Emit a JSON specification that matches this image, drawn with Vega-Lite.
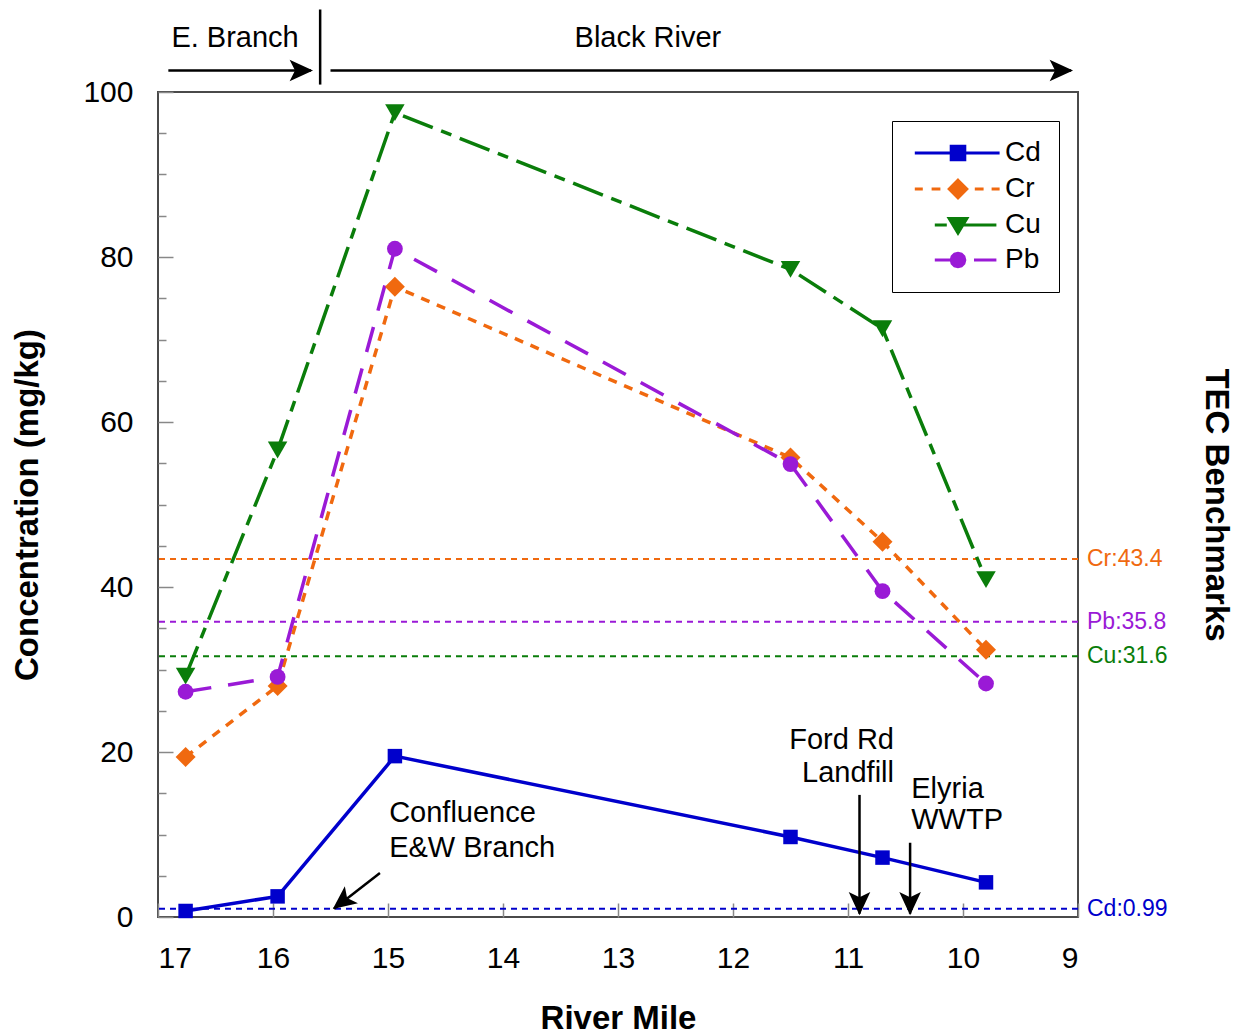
{
  "$schema": "https://vega.github.io/schema/vega-lite/v6.json",
  "width": 920,
  "height": 825,
  "autosize": {"type": "none"},
  "padding": {"left": 158, "top": 92, "right": 160, "bottom": 117},
  "background": "white",
  "config": {
    "font": "Liberation Sans",
    "view": {"stroke": "#4a4a4a", "strokeWidth": 2}
  },
  "datasets": {
    "conc": [
      {"metal": "Cd", "mile": 16.76, "conc": 0.73},
      {"metal": "Cd", "mile": 15.96, "conc": 2.5},
      {"metal": "Cd", "mile": 14.94, "conc": 19.5},
      {"metal": "Cd", "mile": 11.5, "conc": 9.7},
      {"metal": "Cd", "mile": 10.7, "conc": 7.2},
      {"metal": "Cd", "mile": 9.8, "conc": 4.2},
      {"metal": "Cr", "mile": 16.76, "conc": 19.4},
      {"metal": "Cr", "mile": 15.96, "conc": 28.0},
      {"metal": "Cr", "mile": 14.94, "conc": 76.4},
      {"metal": "Cr", "mile": 11.5, "conc": 55.7},
      {"metal": "Cr", "mile": 10.7, "conc": 45.5},
      {"metal": "Cr", "mile": 9.8, "conc": 32.4},
      {"metal": "Cu", "mile": 16.76, "conc": 29.2},
      {"metal": "Cu", "mile": 15.96, "conc": 56.6},
      {"metal": "Cu", "mile": 14.94, "conc": 97.5},
      {"metal": "Cu", "mile": 11.5, "conc": 78.5},
      {"metal": "Cu", "mile": 10.7, "conc": 71.3},
      {"metal": "Cu", "mile": 9.8, "conc": 40.9},
      {"metal": "Pb", "mile": 16.76, "conc": 27.3},
      {"metal": "Pb", "mile": 15.96, "conc": 29.1},
      {"metal": "Pb", "mile": 14.94, "conc": 81.0},
      {"metal": "Pb", "mile": 11.5, "conc": 54.9},
      {"metal": "Pb", "mile": 10.7, "conc": 39.5},
      {"metal": "Pb", "mile": 9.8, "conc": 28.3}
    ],
    "bench": [
      {"metal": "Cd", "tec": 0.99, "label": "Cd:0.99"},
      {"metal": "Cr", "tec": 43.4, "label": "Cr:43.4"},
      {"metal": "Cu", "tec": 31.6, "label": "Cu:31.6"},
      {"metal": "Pb", "tec": 35.8, "label": "Pb:35.8"}
    ],
    "notes": [
      {"text": "Confluence", "mile": 14.99, "conc": 12.6, "side": "L"},
      {"text": "E&W Branch", "mile": 14.99, "conc": 8.4, "side": "L"},
      {"text": "Ford Rd", "mile": 10.6, "conc": 21.5, "side": "R"},
      {"text": "Landfill", "mile": 10.6, "conc": 17.5, "side": "R"},
      {"text": "Elyria", "mile": 10.45, "conc": 15.5, "side": "L"},
      {"text": "WWTP", "mile": 10.45, "conc": 11.8, "side": "L"},
      {"text": "E. Branch", "mile": 16.33, "conc": 106.6, "side": "C"},
      {"text": "Black River", "mile": 12.74, "conc": 106.6, "side": "C"}
    ],
    "arrows": [
      {"mile": 16.91, "conc": 102.6, "mile2": 15.67, "conc2": 102.6},
      {"mile": 15.5, "conc": 102.6, "mile2": 9.06, "conc2": 102.6},
      {"mile": 15.59, "conc": 110.0, "mile2": 15.59, "conc2": 100.9},
      {"mile": 15.07, "conc": 5.34, "mile2": 15.47, "conc2": 1.0},
      {"mile": 10.9, "conc": 14.8, "mile2": 10.9, "conc2": 0.4},
      {"mile": 10.46, "conc": 9.0, "mile2": 10.46, "conc2": 0.4}
    ],
    "heads": [
      {"mile": 15.652, "conc": 102.6, "dir": "right"},
      {"mile": 9.043, "conc": 102.6, "dir": "right"},
      {"mile": 15.48, "conc": 0.97, "dir": "dl"},
      {"mile": 10.9, "conc": 0.2, "dir": "down"},
      {"mile": 10.46, "conc": 0.2, "dir": "down"}
    ]
  },
  "resolve": {"axis": {"x": "independent", "y": "independent"}},
  "layer": [
    {
      "data": {"name": "conc"},
      "transform": [{"filter": "false"}],
      "mark": {"type": "point", "filled": true, "opacity": 1},
      "encoding": {
        "shape": {
          "field": "metal", "type": "nominal",
          "scale": {
            "domain": ["Cd", "Cr", "Cu", "Pb"],
            "range": [
              "M-5.4,0L5.2,0M-0.85,-0.85L0.85,-0.85L0.85,0.85L-0.85,0.85Z",
              "M-5.4,0L-4.4,0M-3.3,0L-2.2,0M2.1,0L3.2,0M4.2,0L5.2,0M0,-1.1L1.1,0L0,1.1L-1.1,0Z",
              "M-2.9,0L-1.4,0M0,0L4.8,0M-1.1,-0.8L1.1,-0.8L0,1Z",
              "M-2.9,0L0,0M2,0L4.8,0M0.85,0L0.736,0.425L0.425,0.736L0,0.85L-0.425,0.736L-0.736,0.425L-0.85,0L-0.736,-0.425L-0.425,-0.736L0,-0.85L0.425,-0.736L0.736,-0.425Z"
            ]
          },
          "legend": {
            "orient": "none", "legendX": 734, "legendY": 29, "title": null,
            "padding": 18, "strokeColor": "#000",
            "symbolSize": 256, "symbolStrokeWidth": 3, "symbolOffset": 34, "symbolOpacity": 1,
            "labelOffset": 33, "labelFontSize": 28, "rowPadding": 7,
            "encode": {
              "symbols": {
                "fill": {"condition": [
                  {"test": "datum.value === 'Cd'", "value": "#0000CC"},
                  {"test": "datum.value === 'Cr'", "value": "#F0690F"},
                  {"test": "datum.value === 'Cu'", "value": "#0A7D0A"}
                ], "value": "#9A1AD6"},
                "stroke": {"condition": [
                  {"test": "datum.value === 'Cd'", "value": "#0000CC"},
                  {"test": "datum.value === 'Cr'", "value": "#F0690F"},
                  {"test": "datum.value === 'Cu'", "value": "#0A7D0A"}
                ], "value": "#9A1AD6"}
              },
              "labels": {
                "fill": {"condition": [
                  {"test": "datum.value === 'Cd'", "value": "#0000CC"},
                  {"test": "datum.value === 'Cr'", "value": "#F0690F"},
                  {"test": "datum.value === 'Cu'", "value": "#0A7D0A"}
                ], "value": "#9A1AD6"}
              }
            }
          }
        }
      }
    },
    {
      "data": {"name": "bench"},
      "mark": {"type": "rule", "strokeWidth": 2, "strokeDash": [6, 5]},
      "encoding": {
        "y": {
          "field": "tec", "type": "quantitative",
          "scale": {"domain": [0, 100], "nice": false, "zero": false},
          "axis": {
            "orient": "right", "labels": false, "ticks": false, "domain": false, "grid": false,
            "title": "TEC Benchmarks", "titleFontSize": 33, "titleFontWeight": "bold",
            "titleColor": "#000", "titleAngle": 90, "titlePadding": 120
          }
        },
        "color": {
          "field": "metal", "type": "nominal",
          "scale": {"domain": ["Cd", "Cr", "Cu", "Pb"], "range": ["#0000CC", "#F0690F", "#0A7D0A", "#9A1AD6"]},
          "legend": null
        }
      }
    },
    {
      "data": {"name": "bench"},
      "mark": {"type": "text", "align": "left", "baseline": "middle", "dx": 9, "fontSize": 23},
      "encoding": {
        "x": {"datum": 9, "type": "quantitative", "axis": null},
        "y": {"field": "tec", "type": "quantitative", "axis": null},
        "text": {"field": "label"},
        "color": {"field": "metal", "type": "nominal", "legend": null}
      }
    },
    {
      "data": {"name": "conc"},
      "transform": [{"filter": "datum.metal === 'Cd'"}],
      "mark": {"type": "line", "strokeWidth": 3.5},
      "encoding": {
        "x": {
          "field": "mile", "type": "quantitative",
          "scale": {"domain": [9, 17], "reverse": true, "nice": false, "zero": false},
          "axis": {
            "orient": "bottom", "values": [17, 16, 15, 14, 13, 12, 11, 10, 9], "format": "d",
            "labelFontSize": 30, "labelColor": "#000", "labelPadding": 40,
            "tickSize": -14, "tickColor": "#888", "tickWidth": 1.5,
            "domain": false, "grid": false,
            "title": "River Mile", "titleFontSize": 33, "titleFontWeight": "bold", "titleColor": "#000", "titlePadding": 29
          }
        },
        "y": {
          "field": "conc", "type": "quantitative",
          "axis": {
            "orient": "left",
            "values": [0, 5, 10, 15, 20, 25, 30, 35, 40, 45, 50, 55, 60, 65, 70, 75, 80, 85, 90, 95, 100],
            "labelExpr": "datum.value % 20 === 0 ? datum.label : ''",
            "labelFontSize": 30, "labelColor": "#000", "labelPadding": 40,
            "tickSize": {"condition": {"test": "datum.value % 20 === 0", "value": -15}, "value": -8},
            "tickColor": "#888", "tickWidth": 1.5,
            "domain": false, "grid": false,
            "title": "Concentration (mg/kg)", "titleFontSize": 33, "titleFontWeight": "bold", "titleColor": "#000", "titlePadding": 38
          }
        },
        "color": {"field": "metal", "type": "nominal", "legend": null}
      }
    },
    {
      "data": {"name": "conc"},
      "transform": [{"filter": "datum.metal === 'Cr'"}],
      "mark": {"type": "line", "strokeWidth": 3.5, "strokeDash": [9, 8]},
      "encoding": {
        "x": {"field": "mile", "type": "quantitative", "axis": null},
        "y": {"field": "conc", "type": "quantitative", "axis": null},
        "color": {"field": "metal", "type": "nominal", "legend": null}
      }
    },
    {
      "data": {"name": "conc"},
      "transform": [{"filter": "datum.metal === 'Cu'"}],
      "mark": {"type": "line", "strokeWidth": 3.5, "strokeDash": [32, 9, 11, 9]},
      "encoding": {
        "x": {"field": "mile", "type": "quantitative", "axis": null},
        "y": {"field": "conc", "type": "quantitative", "axis": null},
        "color": {"field": "metal", "type": "nominal", "legend": null}
      }
    },
    {
      "data": {"name": "conc"},
      "transform": [{"filter": "datum.metal === 'Pb'"}],
      "mark": {"type": "line", "strokeWidth": 3.5, "strokeDash": [26, 17]},
      "encoding": {
        "x": {"field": "mile", "type": "quantitative", "axis": null},
        "y": {"field": "conc", "type": "quantitative", "axis": null},
        "color": {"field": "metal", "type": "nominal", "legend": null}
      }
    },
    {
      "data": {"name": "conc"},
      "transform": [{"filter": "datum.metal === 'Cd'"}],
      "mark": {"type": "point", "filled": true, "opacity": 1, "shape": "square", "size": 210},
      "encoding": {
        "x": {"field": "mile", "type": "quantitative", "axis": null},
        "y": {"field": "conc", "type": "quantitative", "axis": null},
        "color": {"field": "metal", "type": "nominal", "legend": null}
      }
    },
    {
      "data": {"name": "conc"},
      "transform": [{"filter": "datum.metal === 'Cr'"}],
      "mark": {"type": "point", "filled": true, "opacity": 1, "shape": "diamond", "size": 400},
      "encoding": {
        "x": {"field": "mile", "type": "quantitative", "axis": null},
        "y": {"field": "conc", "type": "quantitative", "axis": null},
        "color": {"field": "metal", "type": "nominal", "legend": null}
      }
    },
    {
      "data": {"name": "conc"},
      "transform": [{"filter": "datum.metal === 'Cu'"}],
      "mark": {"type": "point", "filled": true, "opacity": 1, "shape": "triangle-down", "size": 380},
      "encoding": {
        "x": {"field": "mile", "type": "quantitative", "axis": null},
        "y": {"field": "conc", "type": "quantitative", "axis": null},
        "color": {"field": "metal", "type": "nominal", "legend": null}
      }
    },
    {
      "data": {"name": "conc"},
      "transform": [{"filter": "datum.metal === 'Pb'"}],
      "mark": {"type": "point", "filled": true, "opacity": 1, "shape": "circle", "size": 250},
      "encoding": {
        "x": {"field": "mile", "type": "quantitative", "axis": null},
        "y": {"field": "conc", "type": "quantitative", "axis": null},
        "color": {"field": "metal", "type": "nominal", "legend": null}
      }
    },
    {
      "data": {"name": "arrows"},
      "mark": {"type": "rule", "strokeWidth": 2.5, "color": "#000"},
      "encoding": {
        "x": {"field": "mile", "type": "quantitative", "axis": null},
        "x2": {"field": "mile2"},
        "y": {"field": "conc", "type": "quantitative", "axis": null},
        "y2": {"field": "conc2"}
      }
    },
    {
      "data": {"name": "heads"},
      "transform": [{"filter": "datum.dir === 'right'"}],
      "mark": {"type": "point", "filled": true, "opacity": 1, "color": "#000", "size": 1296, "angle": 90, "shape": "M0,0L0.6,1.3L0,1.0L-0.6,1.3Z"},
      "encoding": {
        "x": {"field": "mile", "type": "quantitative", "axis": null},
        "y": {"field": "conc", "type": "quantitative", "axis": null}
      }
    },
    {
      "data": {"name": "heads"},
      "transform": [{"filter": "datum.dir === 'down'"}],
      "mark": {"type": "point", "filled": true, "opacity": 1, "color": "#000", "size": 1296, "angle": 180, "shape": "M0,0L0.6,1.3L0,1.0L-0.6,1.3Z"},
      "encoding": {
        "x": {"field": "mile", "type": "quantitative", "axis": null},
        "y": {"field": "conc", "type": "quantitative", "axis": null}
      }
    },
    {
      "data": {"name": "heads"},
      "transform": [{"filter": "datum.dir === 'dl'"}],
      "mark": {"type": "point", "filled": true, "opacity": 1, "color": "#000", "size": 1296, "angle": 232.6, "shape": "M0,0L0.6,1.3L0,1.0L-0.6,1.3Z"},
      "encoding": {
        "x": {"field": "mile", "type": "quantitative", "axis": null},
        "y": {"field": "conc", "type": "quantitative", "axis": null}
      }
    },
    {
      "data": {"name": "notes"},
      "transform": [{"filter": "datum.side === 'L'"}],
      "mark": {"type": "text", "align": "left", "baseline": "middle", "fontSize": 29, "color": "#000"},
      "encoding": {
        "x": {"field": "mile", "type": "quantitative", "axis": null},
        "y": {"field": "conc", "type": "quantitative", "axis": null},
        "text": {"field": "text"}
      }
    },
    {
      "data": {"name": "notes"},
      "transform": [{"filter": "datum.side === 'R'"}],
      "mark": {"type": "text", "align": "right", "baseline": "middle", "fontSize": 29, "color": "#000"},
      "encoding": {
        "x": {"field": "mile", "type": "quantitative", "axis": null},
        "y": {"field": "conc", "type": "quantitative", "axis": null},
        "text": {"field": "text"}
      }
    },
    {
      "data": {"name": "notes"},
      "transform": [{"filter": "datum.side === 'C'"}],
      "mark": {"type": "text", "align": "center", "baseline": "middle", "fontSize": 29, "color": "#000"},
      "encoding": {
        "x": {"field": "mile", "type": "quantitative", "axis": null},
        "y": {"field": "conc", "type": "quantitative", "axis": null},
        "text": {"field": "text"}
      }
    }
  ]
}
